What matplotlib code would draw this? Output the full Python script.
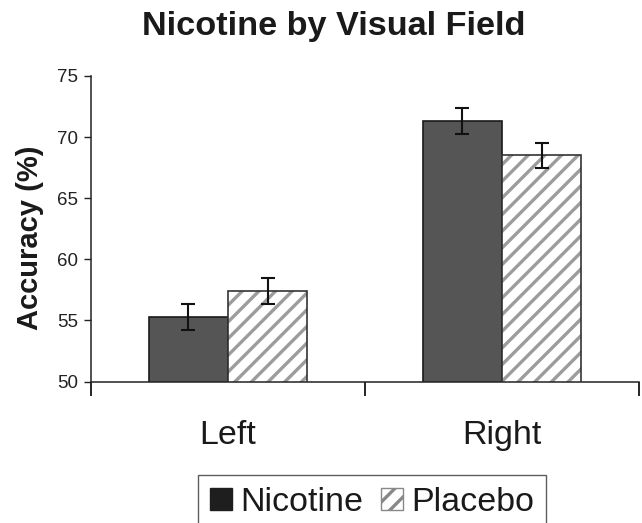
import matplotlib
matplotlib.use("Agg")
import matplotlib.pyplot as plt
from matplotlib.patches import Patch
import numpy as np

# Data
fields = ["Left", "Right"]
nicotine = [55.3, 71.3]
nicotine_err = [1.05, 1.05]
placebo = [57.4, 68.5]
placebo_err = [1.05, 1.05]
yticks = [50, 55, 60, 65, 70, 75]

plt.rcParams["font.family"] = ["Liberation Sans", "DejaVu Sans"]
plt.rcParams["hatch.linewidth"] = 2.4

W, H = 642, 523
fig = plt.figure(figsize=(W / 100, H / 100), dpi=100)
ax = fig.add_axes([91 / W, 1 - 381.5 / H, (639 - 91) / W, (381.5 - 76) / H])

x = np.arange(len(fields))
bw = 0.29
err_kw = dict(ecolor="#111111", elinewidth=1.5, capsize=5.2, capthick=1.5)

ax.bar(x - bw / 2, nicotine, bw, yerr=nicotine_err, color="#555555",
       edgecolor="#1a1a1a", linewidth=1.2, error_kw=err_kw, zorder=2)
# placebo: hatched fill first, then dark outline on top
ax.bar(x + bw / 2, placebo, bw, color="white", edgecolor="#9c9c9c",
       hatch="//", linewidth=0, zorder=2)
ax.bar(x + bw / 2, placebo, bw, yerr=placebo_err, fill=False,
       edgecolor="#333333", linewidth=1.2, error_kw=err_kw, zorder=3)

ax.set_xlim(-0.5, len(fields) - 0.5)
ax.set_ylim(yticks[0], yticks[-1])
ax.set_yticks(yticks)
ax.tick_params(axis="y", direction="out", length=5, width=1, pad=4,
               labelsize=13.5, colors="#222222")
ax.set_xticks(x)
ax.set_xticklabels(fields, fontsize=24.5, color="#1a1a1a")
ax.tick_params(axis="x", which="major", length=0, pad=28)
ax.set_xticks(np.arange(len(fields) + 1) - 0.5, minor=True)
ax.tick_params(axis="x", which="minor", direction="out", length=10, width=1.2)

ax.spines[["top", "right"]].set_visible(False)
ax.spines[["bottom", "left"]].set_linewidth(1.1)
ax.spines[["bottom", "left"]].set_color("#222222")

fig.text(333.5 / W, 1 - 27 / H, "Nicotine by Visual Field", ha="center",
         va="center", fontsize=24.7, fontweight="bold", color="#1a1a1a")
fig.text(30 / W, 1 - 238 / H, "Accuracy (%)", rotation=90, ha="center",
         va="center", fontsize=21, fontweight="bold", color="#1a1a1a")

handles = [Patch(facecolor="#1e1e1e", edgecolor="#1e1e1e", label="Nicotine"),
           Patch(facecolor="white", edgecolor="#888888", hatch="//",
                 linewidth=1, label="Placebo")]
leg = fig.legend(handles=handles, loc="upper left",
                 bbox_to_anchor=(198 / W, 1 - 475 / H), ncol=2,
                 fontsize=24.5, frameon=True, fancybox=False,
                 handlelength=0.65, handleheight=0.65, handletextpad=0.25,
                 columnspacing=0.5, borderpad=0.35, borderaxespad=0)
leg.get_frame().set_edgecolor("#333333")
leg.get_frame().set_linewidth(1.0)
for t in leg.get_texts():
    t.set_color("#1a1a1a")

fig.savefig("out.png", dpi=100)
